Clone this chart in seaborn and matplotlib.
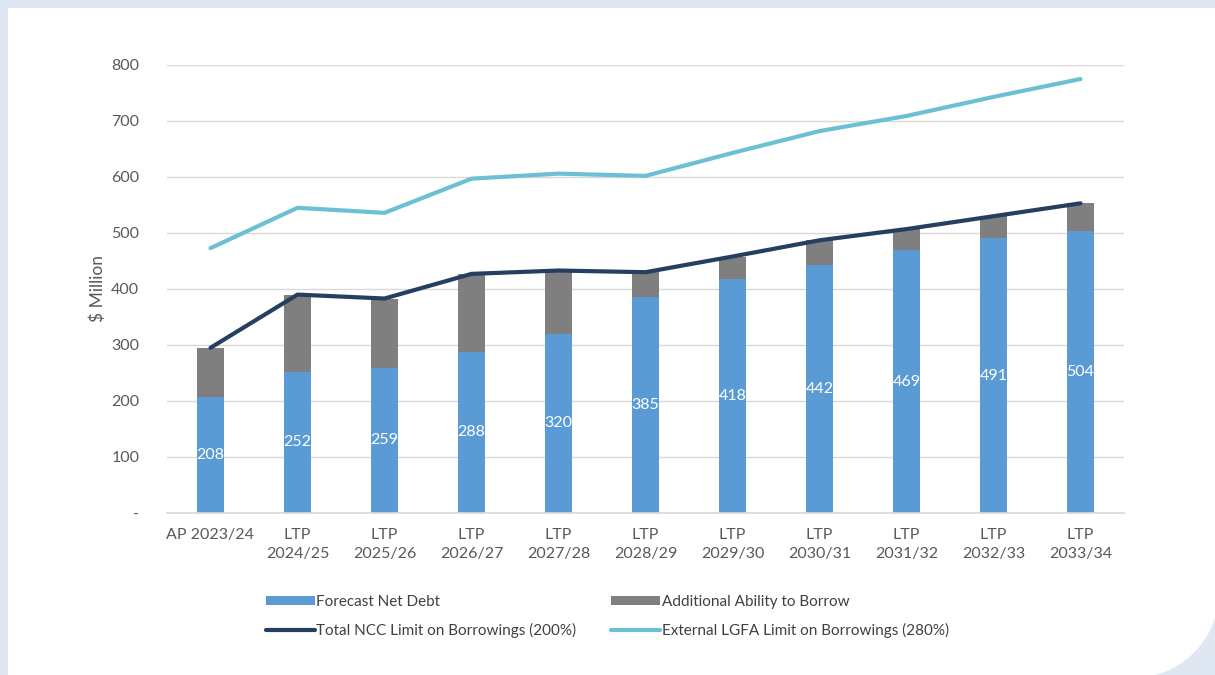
import numpy as np
import pandas as pd
import matplotlib
matplotlib.use("Agg")
import matplotlib.pyplot as plt
from matplotlib.patches import Rectangle, Polygon
import seaborn as sns

# данные
years = ["AP 2023/24", "LTP\n2024/25", "LTP\n2025/26", "LTP\n2026/27", "LTP\n2027/28",
         "LTP\n2028/29", "LTP\n2029/30", "LTP\n2030/31", "LTP\n2031/32", "LTP\n2032/33",
         "LTP\n2033/34"]
forecast_net_debt = [208, 252, 259, 288, 320, 385, 418, 442, 469, 491, 504]
ncc_limit = [295, 390, 383, 427, 433, 430, 458, 487, 507, 530, 553]
lgfa_limit = [473, 545, 536, 597, 606, 602, 643, 682, 709, 743, 775]
additional = [n - f for n, f in zip(ncc_limit, forecast_net_debt)]

df = pd.DataFrame({
    "Year": years,
    "Forecast": forecast_net_debt,
    "Additional": additional,
    "NCC": ncc_limit,
    "LGFA": lgfa_limit,
})

sns.set_theme(style="white")
plt.rcParams["font.family"] = ["Lato", "DejaVu Sans"]
text_col = "#595959"

fig = plt.figure(figsize=(12.15, 6.75), dpi=100)
fig.patch.set_facecolor("#DFE7F3")

# белая панель с закруглённым углом справа снизу
W, H = 1215, 675
fig.patches.append(Rectangle((8 / W, 0), 1, 1 - 8 / H, transform=fig.transFigure,
                             facecolor="white", edgecolor="none", zorder=-2))
cx, cy, r = 1133, 592, 86
t = np.linspace(0, np.pi / 2, 40)
arc = [((cx + r * np.cos(a)) / W, 1 - (cy + r * np.sin(a)) / H) for a in t]
corner = arc + [(1, 0)]
fig.patches.append(Polygon([(1, 1 - cy / H)] + corner, closed=True, transform=fig.transFigure,
                           facecolor="#DFE7F3", edgecolor="none", zorder=-1))

ax = fig.add_axes([167 / W, 1 - 513 / H, (1124 - 167) / W, (513 - 65) / H])
ax.set_facecolor("none")
ax.set_zorder(1)

sns.barplot(data=df, x="Year", y="Forecast", color="#5B9BD5", width=0.31,
            saturation=1, linewidth=0, ax=ax, label="Forecast Net Debt", zorder=2)
sns.barplot(data=df, x="Year", y="Additional", bottom=df["Forecast"], color="#7F7F7F",
            width=0.31, saturation=1, linewidth=0, ax=ax,
            label="Additional Ability to Borrow", zorder=2)
sns.lineplot(data=df, x="Year", y="NCC", sort=False, color="#243F60", linewidth=3,
             ax=ax, label="Total NCC Limit on Borrowings (200%)", zorder=3)
sns.lineplot(data=df, x="Year", y="LGFA", sort=False, color="#6DBFD3", linewidth=3,
             ax=ax, label="External LGFA Limit on Borrowings (280%)", zorder=3)

for i, v in enumerate(forecast_net_debt):
    ax.text(i, v / 2, str(v), ha="center", va="center", color="white", fontsize=11.5, zorder=4)

ax.set_ylim(0, 800)
ax.set_xlim(-0.5, len(years) - 0.5)
ax.set_yticks(range(0, 801, 100))
ax.set_yticklabels(["-"] + [str(v) for v in range(100, 801, 100)])
ax.yaxis.grid(True, color="#D9D9D9", linewidth=1)
ax.set_axisbelow(True)
for s in ["top", "right", "left"]:
    ax.spines[s].set_visible(False)
ax.spines["bottom"].set_color("#D9D9D9")
ax.tick_params(axis="both", length=0, colors=text_col, labelsize=11.5)
ax.tick_params(axis="y", pad=20)
ax.tick_params(axis="x", pad=11)
for lab in ax.get_xticklabels():
    lab.set_linespacing(1.4)
ax.set_xlabel("")
ax.set_ylabel("$ Million", color=text_col, fontsize=12.5, labelpad=4)

handles, labels = ax.get_legend_handles_labels()
if ax.get_legend() is not None:
    ax.get_legend().remove()
order = {l: h for h, l in zip(handles, labels)}
names = ["Forecast Net Debt", "Total NCC Limit on Borrowings (200%)",
         "Additional Ability to Borrow", "External LGFA Limit on Borrowings (280%)"]
leg = fig.legend([order[n] for n in names], names, ncol=2, frameon=False,
                 loc="upper left", bbox_to_anchor=(252 / W, 1 - 581 / H),
                 fontsize=11, columnspacing=2.3, handlelength=3.2, handletextpad=0.1,
                 labelspacing=0.95, handleheight=0.6)
for txt in leg.get_texts():
    txt.set_color("#404040")

fig.savefig("out.png", dpi=100, facecolor=fig.get_facecolor())
